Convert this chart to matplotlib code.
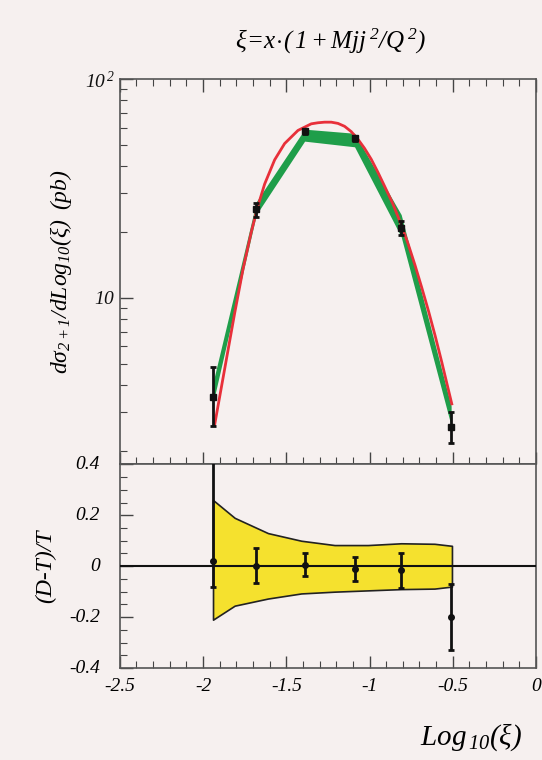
"""
Xi distribution of 2+1 jet events with data/theory ratio panel.
"""

import matplotlib.pyplot as plt
import numpy as np
from matplotlib.ticker import MultipleLocator, NullFormatter, FixedLocator

plt.rcParams['mathtext.fontset'] = 'custom'
plt.rcParams['mathtext.rm'] = 'Liberation Serif'
plt.rcParams['mathtext.it'] = 'Liberation Serif:italic'
plt.rcParams['font.family'] = ['Liberation Serif', 'DejaVu Serif']
plt.rcParams['font.style'] = 'italic'

BG = '#f6f0ef'

# data points (top panel)
x_data = [-1.94, -1.68, -1.39, -1.09, -0.81, -0.51]
y_data = [3.5, 25.5, 57.7, 53.6, 20.9, 2.56]
y_err_lo = [0.9, 2.0, 1.5, 1.5, 1.6, 0.4]
y_err_hi = [1.3, 1.7, 1.5, 1.5, 1.6, 0.45]

# theory curve (red)
x_theory = [-1.93, -1.89, -1.85, -1.81, -1.76, -1.71, -1.67, -1.63,
            -1.57, -1.51, -1.43, -1.35, -1.31, -1.27, -1.23, -1.19, -1.15,
            -1.11, -1.07, -1.03, -0.99, -0.95, -0.91, -0.86, -0.81, -0.77,
            -0.727, -0.686, -0.646, -0.606, -0.566, -0.536, -0.506]
y_theory = [2.63, 3.89, 5.75, 8.5, 13.5, 20.0, 26.3, 33.1,
            42.7, 50.7, 58.2, 62.4, 63.1, 63.5, 63.5, 62.7, 60.8,
            57.5, 53.1, 48.2, 43.0, 37.5, 32.4, 26.9, 21.6, 17.8,
            14.1, 11.1, 8.7, 6.7, 5.07, 4.07, 3.27]

# green band
green_lo = [3.3, 24.0, 52.0, 49.0, 19.0, 2.6]
green_hi = [4.1, 27.5, 59.0, 56.5, 24.0, 3.2]

# ratio panel
r_data = [0.02, 0.0, 0.005, -0.01, -0.015, -0.20]
r_err_lo = [0.10, 0.065, 0.045, 0.05, 0.07, 0.13]
r_err_hi = [0.45, 0.07, 0.045, 0.045, 0.065, 0.13]

x_band = [-1.94, -1.81, -1.61, -1.41, -1.21, -1.01, -0.81, -0.61, -0.505]
band_hi = [0.26, 0.19, 0.13, 0.10, 0.083, 0.083, 0.09, 0.088, 0.08]
band_lo = [-0.21, -0.155, -0.127, -0.107, -0.10, -0.095, -0.09, -0.088, -0.08]

fig = plt.figure(figsize=(5.42, 7.6), dpi=100, facecolor=BG)
ax1 = fig.add_axes([0.221, 0.389, 0.768, 0.507], facecolor=BG)
ax2 = fig.add_axes([0.221, 0.121, 0.768, 0.268], facecolor=BG)

# top panel
ax1.fill_between(x_data, green_lo, green_hi, color='#1f9e4a', lw=0, zorder=2)
ax1.plot(x_theory, y_theory, color='#e8303a', lw=2, zorder=3)
ax1.errorbar(x_data, y_data, yerr=[y_err_lo, y_err_hi], fmt='s', color='#111',
             ms=4, lw=2, capsize=2.5, capthick=2, zorder=4)
ax1.set_yscale('log')
ax1.set_xlim(-2.5, 0)
ax1.set_ylim(1.73, 100)
ax1.yaxis.set_major_locator(FixedLocator([10, 100]))
ax1.set_yticklabels(['$10$', '$10^{\\,2}$'])
ax1.yaxis.set_minor_formatter(NullFormatter())
ax1.xaxis.set_major_locator(MultipleLocator(0.5))
ax1.xaxis.set_minor_locator(MultipleLocator(0.1))
ax1.tick_params(axis='x', which='both', labelbottom=False)
ax1.set_ylabel(r'$d\sigma_{2+1}/dLog_{10}(\xi)\;\;(pb)$', fontsize=17, labelpad=8)

# ratio panel
ax2.fill_between(x_band, band_lo, band_hi, color='#f5e12e', edgecolor='#222',
                 lw=1.2, zorder=2)
ax2.axhline(0, color='#111', lw=1.5, zorder=3)
ax2.errorbar(x_data, r_data, yerr=[r_err_lo, r_err_hi], fmt='o', color='#111',
             ms=4, lw=2, capsize=2.5, capthick=2, zorder=4)
ax2.set_xlim(-2.5, 0)
ax2.set_ylim(-0.4, 0.4)
ax2.xaxis.set_major_locator(MultipleLocator(0.5))
ax2.xaxis.set_minor_locator(MultipleLocator(0.1))
ax2.yaxis.set_major_locator(MultipleLocator(0.2))
ax2.yaxis.set_minor_locator(MultipleLocator(0.05))
ax2.set_xticklabels([])
ax2.set_yticklabels([])
for v, lab in zip([-2.5, -2, -1.5, -1, -0.5, 0], ['-2.5', '-2', '-1.5', '-1', '-0.5', '0']):
    ax2.text(v, -0.44, lab, ha='center', va='top', fontsize=14, clip_on=False)
for v, lab in zip([-0.4, -0.2, 0, 0.2, 0.4], ['-0.4', '-0.2', '0', '0.2', '0.4']):
    ax2.text(-2.62, v, lab, ha='right', va='center', fontsize=14, clip_on=False)
ax2.set_ylabel('(D-T)/T', fontsize=17, labelpad=42)

for ax in (ax1, ax2):
    ax.tick_params(which='both', direction='in', top=True, right=False,
                   colors='#444', labelcolor='#111', labelsize=14)
    ax.tick_params(which='major', length=9, width=1)
    ax.tick_params(which='minor', length=5, width=0.8)
    for s in ax.spines.values():
        s.set_color('#555')
        s.set_linewidth(1.2)
ax2.tick_params(axis='x', which='both', top=False)

fig.text(0.61, 0.945, r'$\xi\!=\!x\!\cdot\!(\,1+Mjj^{\,2}/Q^{\,2})$', ha='center',
         va='center', fontsize=18)
fig.text(0.87, 0.03, r'$Log_{\,10}(\xi)$', ha='center', va='center', fontsize=21)

plt.savefig('out.png', dpi=100, facecolor=BG)
